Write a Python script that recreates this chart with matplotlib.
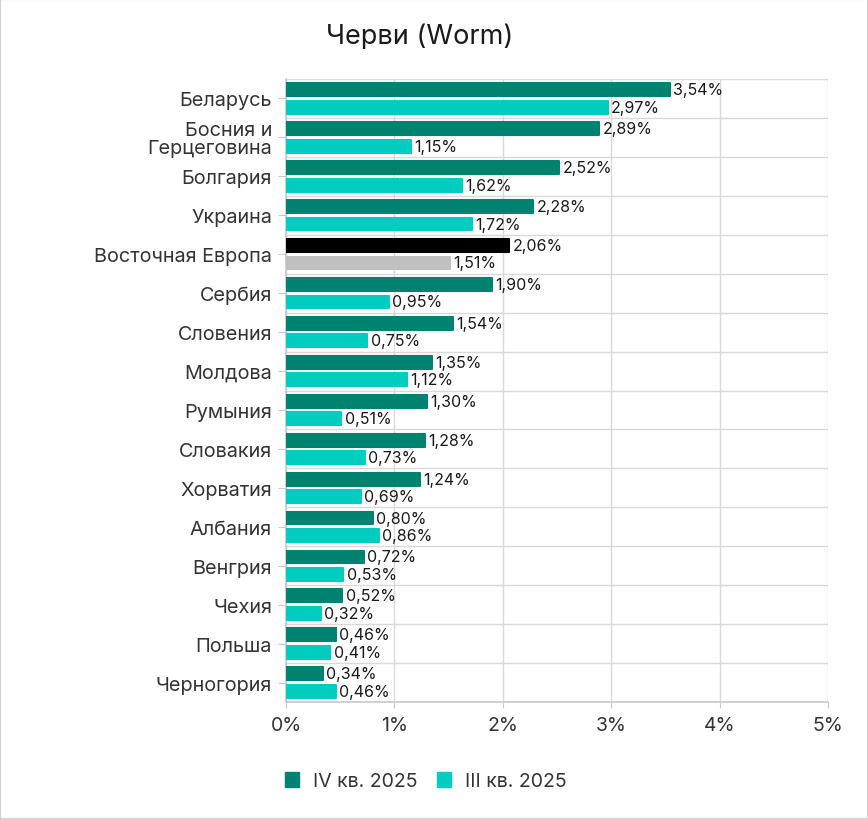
import matplotlib
matplotlib.use("Agg")
import matplotlib.pyplot as plt
import numpy as np
from matplotlib.patches import Rectangle

plt.rcParams['font.family'] = ['Inter', 'DejaVu Sans']

countries = ["Беларусь", "Босния и\nГерцеговина", "Болгария", "Украина", "Восточная Европа",
             "Сербия", "Словения", "Молдова", "Румыния", "Словакия", "Хорватия",
             "Албания", "Венгрия", "Чехия", "Польша", "Черногория"]
q4_2025 = [3.54, 2.89, 2.52, 2.28, 2.06, 1.90, 1.54, 1.35, 1.30, 1.28, 1.24, 0.80, 0.72, 0.52, 0.46, 0.34]
q3_2025 = [2.97, 1.15, 1.62, 1.72, 1.51, 0.95, 0.75, 1.12, 0.51, 0.73, 0.69, 0.86, 0.53, 0.32, 0.41, 0.46]
xticks = [0, 1, 2, 3, 4, 5]
series_names = ["IV кв. 2025", "III кв. 2025"]

dark = "#008270"
light = "#00CCC0"
n = len(countries)
y = np.arange(n)
region_idx = countries.index("Восточная Европа")

fig = plt.figure(figsize=(8.68, 8.2), dpi=100)
ax = fig.add_axes([0.3295, 0.1427, 0.6245, 0.7597])

c1 = [dark] * n
c2 = [light] * n
c1[region_idx] = "#000000"
c2[region_idx] = "#C0C0C0"

off = 0.225
h = 0.33
b1 = ax.barh(y - off, q4_2025, height=h, color=c1, edgecolor=c1, linewidth=1.5, zorder=3)
b2 = ax.barh(y + off, q3_2025, height=h, color=c2, edgecolor=c2, linewidth=1.5, zorder=3)
for b in list(b1) + list(b2):
    b.set_joinstyle('round')

for yy, v in zip(y, q4_2025):
    ax.text(v + 0.03, yy - off, f"{v:.2f}%".replace(".", ","), va="center", ha="left",
            fontsize=11.5, color="#1a1a1a", zorder=4)
for yy, v in zip(y, q3_2025):
    ax.text(v + 0.03, yy + off, f"{v:.2f}%".replace(".", ","), va="center", ha="left",
            fontsize=11.5, color="#1a1a1a", zorder=4)

ax.set_xlim(0, 5)
ax.set_ylim(n - 0.5, -0.5)
ax.set_xticks(xticks)
ax.set_xticklabels([f"{t}%" for t in xticks], fontsize=14, color="#333333")
ax.set_yticks(y)
ax.set_yticklabels(countries, fontsize=14.3, color="#333333", linespacing=1.0)
ax.set_yticks(np.arange(n + 1) - 0.5, minor=True)

ax.grid(axis="x", color="#d9d9d9", linewidth=1, zorder=0)
ax.grid(axis="y", which="minor", color="#d9d9d9", linewidth=1, zorder=0)
ax.tick_params(axis="y", which="major", length=6, color="#c8c8c8", pad=4)
ax.tick_params(axis="y", which="minor", length=0)
ax.tick_params(axis="x", length=4, color="#c8c8c8", pad=6)

for s in ["top", "right"]:
    ax.spines[s].set_visible(False)
for s in ["left", "bottom"]:
    ax.spines[s].set_color("#c8c8c8")
    ax.spines[s].set_linewidth(1.2)

fig.text(0.484, 0.955, "Черви (Worm)", ha="center", va="center", fontsize=19.5, color="#1a1a1a")

handles = [Rectangle((0, 0), 1, 1, color=dark), Rectangle((0, 0), 1, 1, color=light)]
fig.legend(handles, series_names, loc="center left", bbox_to_anchor=(0.328, 0.046),
           ncol=2, frameon=False, fontsize=14, handlelength=0.75, handleheight=0.75,
           handletextpad=0.7, columnspacing=1.0, labelcolor="#333333",
           borderpad=0, borderaxespad=0)

fig.patches.append(Rectangle((0, 0), 1, 1, transform=fig.transFigure, fill=False,
                             edgecolor="#d0d0d0", linewidth=1.5))

fig.savefig("out.png", dpi=100)
